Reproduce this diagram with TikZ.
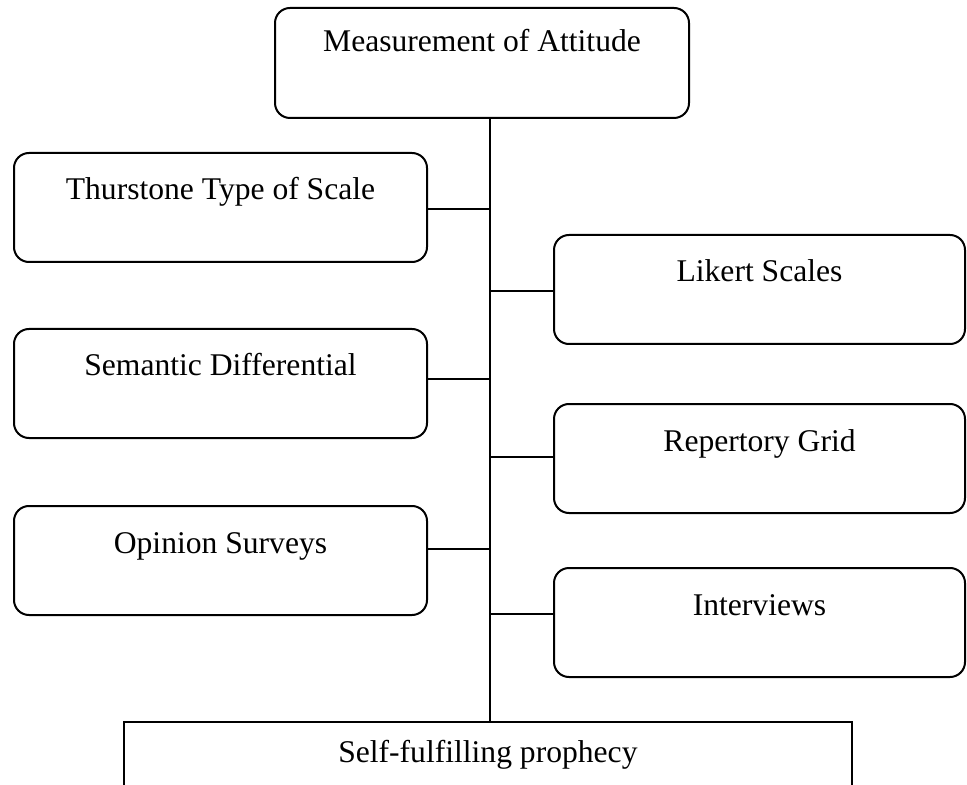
\documentclass[tikz,border=0pt]{standalone}
\usepackage{fontspec}
\setmainfont{Liberation Serif}
\begin{document}
\begin{tikzpicture}[x=0.5pt,y=-0.5pt,
  every node/.style={font=\fontsize{15.8}{19}\selectfont},
  methodbox/.style={draw, line width=1pt, rounded corners=7.5pt,
    inner xsep=0pt, inner ysep=0pt, anchor=north west,
    minimum width=206.5pt, minimum height=54.5pt,
    text height=23.5pt, text depth=31pt},
  rightbox/.style={methodbox, minimum width=205.5pt},
  headbox/.style={methodbox, minimum width=207pt, minimum height=55pt,
    text height=22pt, text depth=33pt},
  resultbox/.style={draw, line width=0.9pt, inner xsep=0pt, inner ysep=0pt,
    anchor=north west, minimum width=364pt, minimum height=50pt,
    text height=20.5pt, text depth=29.5pt},
  link/.style={line width=1pt}]
\useasboundingbox (0,0) rectangle (967,785);
\clip (0,0) rectangle (967,785);

% top heading
\node[headbox] (head) at (274,7) {Measurement of Attitude};

% methods on the left
\node[methodbox] (thurstone) at (13,152) {Thurstone Type of Scale};
\node[methodbox] (semantic)  at (13,328) {Semantic Differential};
\node[methodbox] (opinion)   at (13,505) {Opinion Surveys};

% methods on the right
\node[rightbox] (likert)     at (553,234) {Likert Scales};
\node[rightbox] (repertory)  at (553,403) {Repertory Grid};
\node[rightbox] (interviews) at (553,567) {Interviews};

% outcome box, running off the lower edge
\node[resultbox] (prophecy) at (123,721) {Self-fulfilling prophecy};

% central spine
\coordinate (sx) at (490,0);
\draw[link] (head.south -| sx) -- (prophecy.north -| sx);

% branches
\coordinate (b1) at (490,209);
\coordinate (b2) at (490,291);
\coordinate (b3) at (490,379);
\coordinate (b4) at (490,457);
\coordinate (b5) at (490,549);
\coordinate (b6) at (490,614);
\draw[link] (b1) -- (thurstone.east |- b1);
\draw[link] (b2) -- (likert.west |- b2);
\draw[link] (b3) -- (semantic.east |- b3);
\draw[link] (b4) -- (repertory.west |- b4);
\draw[link] (b5) -- (opinion.east |- b5);
\draw[link] (b6) -- (interviews.west |- b6);
\end{tikzpicture}
\end{document}
